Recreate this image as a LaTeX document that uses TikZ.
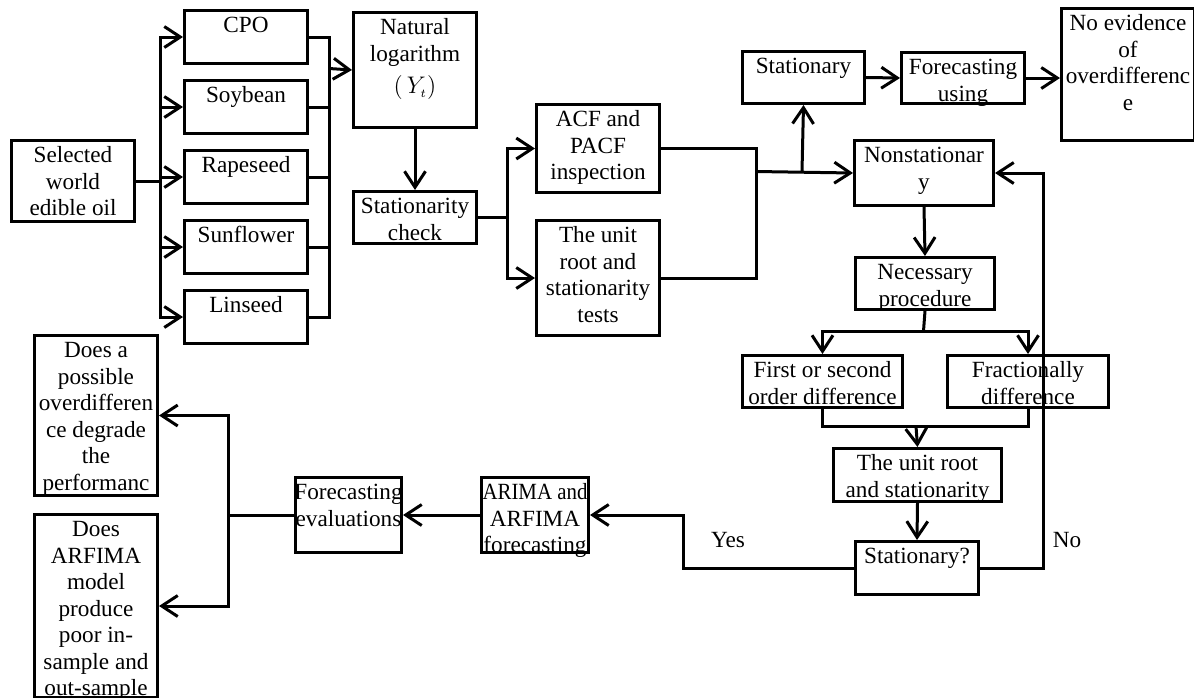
\documentclass[tikz,border=0pt]{standalone}
\usepackage{fontspec}
\setmainfont{Liberation Serif}
\usetikzlibrary{arrows.meta}

% box content: width and height in px (1px = 0.5pt), lines never broken
\newcommand{\boxtext}[3]{\parbox[c][\dimexpr#2pt/2\relax][t]{\dimexpr#1pt/2\relax}{%
  \makebox[\linewidth]{\begin{tabular}[t]{@{}c@{}}\rule{0pt}{11pt}#3\end{tabular}}}}

\begin{document}
\begin{tikzpicture}[>={Straight Barb[length=8pt,width=10.5pt]},line join=miter,
  x=0.5pt,y=-0.5pt,
  font=\fontsize{11.6}{13.25}\selectfont,
  box/.style={draw,inner sep=0pt,anchor=north west}]

\pgfsetlinewidth{1.5pt}
\pgfsetcolor{black}
\useasboundingbox (0,0) rectangle (1194,697);

% Node: Selected world edible oil
\node[box] (sel) at (10,139) {\boxtext{123}{81}{Selected\\world\\edible oil}};

% Node: oils
\node[box] (cpo)  at (183,9)   {\boxtext{123}{53}{CPO}};
\node[box] (soy)  at (183,79)  {\boxtext{123}{53}{Soybean}};
\node[box] (rape) at (183,149) {\boxtext{123}{53}{Rapeseed}};
\node[box] (sun)  at (183,219) {\boxtext{123}{53}{Sunflower}};
\node[box] (lin)  at (183,289) {\boxtext{123}{53}{Linseed}};

% Node: Natural logarithm
\node[box] (nat) at (352,11) {\boxtext{123}{115}{Natural\\logarithm\\[3pt]$\bigl(\,Y_{\scriptscriptstyle t}\bigr)$}};

% Node: Stationarity check
\node[box] (chk) at (352,190) {\boxtext{123}{52}{Stationarity\\check}};

% Node: ACF / unit root tests
\node[box] (acf) at (535,103) {\boxtext{123}{88}{ACF and\\PACF\\inspection}};
\node[box] (urt) at (535,219) {\boxtext{123}{115}{The unit\\root and\\stationarity\\tests}};

% Node: Stationary, Forecasting using, No evidence
\node[box] (stat) at (741,50)  {\boxtext{122}{52}{Stationary}};
\node[box] (fore) at (900,51)  {\boxtext{123}{51}{Forecasting\\using}};
\node[box] (noev) at (1060,7)  {\boxtext{133}{132}{No evidence\\of\\overdifferenc\\e}};

% Node: Nonstationary branch
\node[box] (nons)  at (853,139) {\boxtext{139}{65}{Nonstationar\\y}};
\node[box] (nec)   at (854,256) {\boxtext{139}{52}{Necessary\\procedure}};
\node[box] (first) at (741,354) {\boxtext{160}{52}{First or second\\order difference}};
\node[box] (frac)  at (946,354) {\boxtext{161}{52}{Fractionally\\difference}};
\node[box] (ur2)   at (832,447) {\boxtext{168}{53}{The unit root\\and stationarity}};
\node[box] (sq)    at (854,540) {\boxtext{123}{53}{Stationary?}};

% Node: forecasting and evaluation
\node[box] (arima) at (480,476) {\boxtext{107}{75}{\scalebox{0.9}[1]{ARIMA and}\\ARFIMA\\forecasting}};
\node[box] (feval) at (294,476) {\boxtext{106}{75}{Forecasting\\evaluations}};

% Node: questions
\node[box] (q1) at (33,334) {\boxtext{123}{160}{Does a\\possible\\overdifferen\\ce degrade\\the\\performanc}};
\node[box] (q2) at (33,513) {\boxtext{123}{183}{Does\\ARFIMA\\model\\produce\\poor in-\\sample and\\out-sample}};

% Edge: Selected -> oils
\draw [->] (sel.east) -- ++(24,0) |- (cpo.west);
\draw [->] (sel.east) -- ++(24,0) |- (soy.west);
\draw [->] (sel.east) -- ++(24,0) |- (rape.west);
\draw [->] (sel.east) -- ++(24,0) |- (sun.west);
\draw [->] (sel.east) -- ++(24,0) |- (lin.west);

% Edge: oils -> Natural logarithm
\coordinate (joinR) at (329,68.5);
\draw (cpo.east) -| (joinR);
\draw (soy.east) -| (joinR);
\draw (rape.east) -| (joinR);
\draw (sun.east) -| (joinR);
\draw (lin.east) -| (joinR);
\draw [->] (joinR) -- (nat.west);

% Edge: Natural logarithm -> Stationarity check
\draw [->] (nat.south) -- (chk.north);

% Edge: Stationarity check -> ACF, unit root tests
\draw [->] (chk.east) -- ++(29,0) |- (acf.west);
\draw [->] (chk.east) -- ++(29,0) |- (urt.west);

% Edge: ACF, unit root tests -> Nonstationary, Stationary
\coordinate (merge) at (756,171.5);
\coordinate (up) at (802,171.5);
\draw (acf.east) -| (merge);
\draw (urt.east) -| (merge);
\draw [->] (merge) -- (nons.west);
\draw [->] (up) -- (stat.south);

% Edge: Stationary -> Forecasting using -> No evidence
\draw [->] (stat.east) -- (fore.west);
\draw [->] (fore.east) -- (fore.east -| noev.west);

% Edge: Nonstationary -> Necessary procedure
\draw [->] (nons.south) -- (nec.north);

% Edge: Necessary procedure -> differences
\coordinate (split) at (923.5,331);
\draw (nec.south) -- (split);
\draw [->] (split) -| (first.north);
\draw [->] (split) -| (frac.north);

% Edge: differences -> unit root
\coordinate (join2) at (916,426);
\draw (first.south) |- (join2);
\draw (frac.south) |- (join2);
\draw [->] (join2) -- (ur2.north);

% Edge: unit root -> Stationary?
\draw [->] (ur2.south) -- (sq.north);

% Edge: Stationary? -> Nonstationary (No)
\draw [->] (sq.east) -- ++(63,0) |- (nons.east);
\node (no) at (1067,540) {No};

% Edge: Stationary? -> ARIMA (Yes)
\draw [->] (sq.west) -- ++(-171,0) |- (arima.east);
\node (yes) at (728,540) {Yes};

% Edge: ARIMA -> Forecasting evaluations
\draw [->] (arima.west) -- (feval.east);

% Edge: Forecasting evaluations -> questions
\draw [->] (feval.west) -- ++(-66,0) |- (q1.east);
\draw [->] (feval.west) -- ++(-66,0) |- (q2.east);

\end{tikzpicture}
\end{document}
